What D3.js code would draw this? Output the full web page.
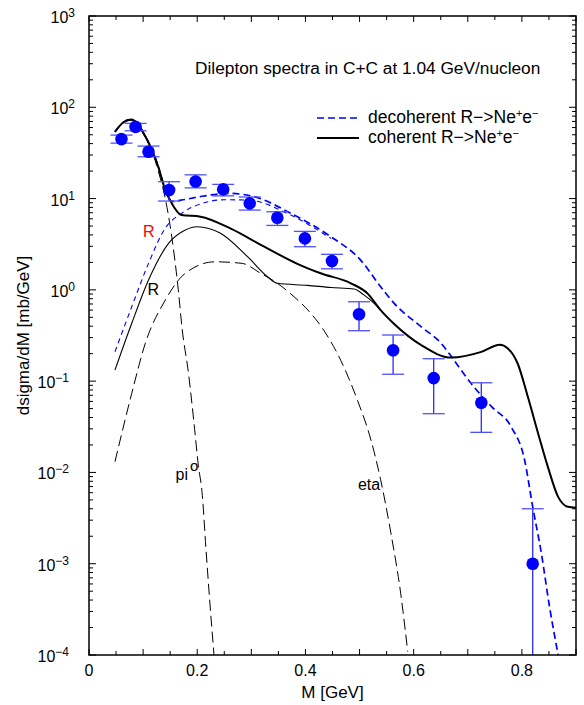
<!DOCTYPE html>
<html>
<head>
<meta charset="utf-8">
<script src="https://cdn.jsdelivr.net/npm/d3@7"></script>
<style>
  body { margin: 0; background: #fff; }
  svg { display: block; font-family: "Liberation Sans", Arial, Helvetica, sans-serif; }
</style>
</head>
<body>
<div id="chart"></div>
<script>
// measured dilepton spectrum (points with error bars)
var dataMass  = [0.060, 0.086, 0.110, 0.148, 0.197, 0.248, 0.297, 0.348, 0.399, 0.449, 0.499, 0.562, 0.637, 0.725, 0.820];
var dataSigma = [44.8, 61.0, 32.6, 12.4, 15.4, 12.6, 8.86, 6.16, 3.66, 2.07, 0.54, 0.218, 0.108, 0.058, 0.001];
var dataLow   = [40.5, 55.3, 28.7, 9.4, 13.1, 10.7, 7.48, 5.08, 2.97, 1.70, 0.357, 0.119, 0.044, 0.0275, 0.00001];
var dataHigh  = [49.6, 66.6, 37.6, 15.3, 18.2, 14.3, 10.4, 7.17, 4.37, 2.45, 0.741, 0.32, 0.176, 0.096, 0.004];

// pi0 Dalitz
var piMass  = [0.048, 0.063, 0.078, 0.090, 0.101, 0.110, 0.119, 0.128, 0.141, 0.153, 0.165, 0.172, 0.184, 0.194, 0.202, 0.209, 0.216, 0.223, 0.231];
var piSigma = [53.7, 68, 72, 64, 50, 40, 30, 20, 10, 3.8, 1.0, 0.38, 0.12, 0.035, 0.012, 0.006, 0.0015, 0.0004, 0.0001];

// eta Dalitz
var etaMass  = [0.048, 0.079, 0.104, 0.141, 0.178, 0.233, 0.283, 0.317, 0.348, 0.379, 0.410, 0.434, 0.465, 0.496, 0.521, 0.539, 0.558, 0.576, 0.589];
var etaSigma = [0.0131, 0.0735, 0.259, 0.773, 1.52, 2.03, 1.95, 1.52, 1.18, 0.84, 0.553, 0.36, 0.17, 0.062, 0.0227, 0.0083, 0.00215, 0.000474, 0.000109];

// coherent R -> N e+e- contribution
var rCohMass  = [0.048, 0.079, 0.110, 0.147, 0.178, 0.200, 0.243, 0.293, 0.330, 0.348, 0.404, 0.447, 0.490, 0.508, 0.527, 0.539];
var rCohSigma = [0.132, 0.43, 1.28, 3.23, 4.52, 4.91, 4.16, 2.31, 1.39, 1.18, 1.12, 1.06, 1.02, 0.88, 0.71, 0.60];

// decoherent R -> N e+e- contribution
var rDecMass  = [0.048, 0.079, 0.110, 0.141, 0.171, 0.209, 0.250, 0.293, 0.373, 0.447];
var rDecSigma = [0.21, 0.653, 1.95, 4.75, 6.89, 8.85, 9.7, 9.63, 6.59, 3.66];

// total, coherent
var totCohMass  = [0.048, 0.063, 0.078, 0.090, 0.101, 0.119, 0.128, 0.141, 0.153, 0.171, 0.206, 0.262, 0.323, 0.385, 0.428, 0.484, 0.515, 0.539, 0.564, 0.614, 0.669, 0.725, 0.759, 0.774, 0.792, 0.811, 0.830, 0.848, 0.867, 0.885, 0.900];
var totCohSigma = [53.9, 68, 73.7, 66, 51.8, 31.3, 22.3, 12.4, 8.86, 6.59, 6.34, 4.69, 2.99, 1.93, 1.52, 1.18, 0.91, 0.60, 0.423, 0.248, 0.181, 0.209, 0.25, 0.228, 0.157, 0.0674, 0.0267, 0.0115, 0.0054, 0.0042, 0.0041];

// total, decoherent
var totDecMass  = [0.048, 0.063, 0.078, 0.090, 0.101, 0.119, 0.128, 0.141, 0.153, 0.170, 0.209, 0.258, 0.305, 0.373, 0.447, 0.502, 0.539, 0.564, 0.614, 0.651, 0.672, 0.706, 0.744, 0.780, 0.805, 0.820, 0.836, 0.851, 0.867];
var totDecSigma = [53.9, 68, 73.7, 66, 51.8, 31.3, 22.3, 12.6, 9.3, 9.6, 10.6, 11.4, 10.5, 6.89, 3.82, 2.12, 1.08, 0.711, 0.394, 0.259, 0.178, 0.0946, 0.0525, 0.0317, 0.0137, 0.0042, 0.0013, 0.00034, 0.0001];

var xTicks = [0, 0.2, 0.4, 0.6, 0.8];
var yExponents = [-4, -3, -2, -1, 0, 1, 2, 3];

var DileptonChart = (function () {
    /**
     * Builds the log-scale dilepton chart inside the given div
     * @param divId The div that receives the svg
     */
    function DileptonChart(divId) {
        var _this = this;
        this.divId = divId;
        this.margin = { top: 16, right: 8, bottom: 50, left: 89 };
        this.size = {
            width: 584 - this.margin.left - this.margin.right,
            height: 705 - this.margin.top - this.margin.bottom
        };
        this.xScale = d3.scaleLinear().domain([0, 0.9]).range([0, this.size.width]);
        this.yScale = d3.scaleLog().domain([1e-4, 1e3]).range([this.size.height, 0]);
        this.line = d3.line()
            .x(function (d) { return _this.xScale(d[0]); })
            .y(function (d) { return _this.yScale(d[1]); })
            .curve(d3.curveMonotoneX);
        this.initialize();
    }
    DileptonChart.prototype.initialize = function () {
        this.svg = d3.select("#" + this.divId).append("svg")
            .attr("width", 584).attr("height", 705);
        this.svg.append("defs").append("clipPath").attr("id", "plotClip")
            .append("rect").attr("width", this.size.width).attr("height", this.size.height);
        this.g = this.svg.append("g")
            .attr("transform", "translate(" + this.margin.left + "," + this.margin.top + ")");
    };
    DileptonChart.prototype.renderCurves = function () {
        var _this = this;
        var curves = [
            { mass: piMass, sigma: piSigma, stroke: "#000", width: 1, dash: "11,5" },
            { mass: etaMass, sigma: etaSigma, stroke: "#000", width: 1, dash: "11,5" },
            { mass: rCohMass, sigma: rCohSigma, stroke: "#000", width: 1.1, dash: null },
            { mass: rDecMass, sigma: rDecSigma, stroke: "#0000ff", width: 1.1, dash: "5,4" },
            { mass: totDecMass, sigma: totDecSigma, stroke: "#0000ff", width: 1.7, dash: "7,4" },
            { mass: totCohMass, sigma: totCohSigma, stroke: "#000", width: 2, dash: null }
        ];
        var layer = this.g.append("g").attr("clip-path", "url(#plotClip)");
        layer.selectAll("path.curve").data(curves).enter().append("path")
            .attr("class", "curve")
            .attr("d", function (c) { return _this.line(c.mass.map(function (m, i) { return [m, c.sigma[i]]; })); })
            .attr("fill", "none")
            .attr("stroke", function (c) { return c.stroke; })
            .attr("stroke-width", function (c) { return c.width; })
            .attr("stroke-dasharray", function (c) { return c.dash; });
    };
    DileptonChart.prototype.renderPoints = function () {
        var _this = this;
        var yMin = this.yScale.domain()[0];
        var points = dataMass.map(function (m, i) {
            return { m: m, v: dataSigma[i], lo: dataLow[i], hi: dataHigh[i] };
        });
        var layer = this.g.append("g").attr("clip-path", "url(#plotClip)");
        var pt = layer.selectAll("g.point").data(points).enter().append("g").attr("class", "point");
        pt.append("line")
            .attr("x1", function (d) { return _this.xScale(d.m); })
            .attr("x2", function (d) { return _this.xScale(d.m); })
            .attr("y1", function (d) { return _this.yScale(d.hi); })
            .attr("y2", function (d) { return _this.yScale(Math.max(d.lo, yMin)); })
            .attr("stroke", "#2a2aff").attr("stroke-width", 1.3);
        pt.append("line")
            .attr("x1", function (d) { return _this.xScale(d.m) - 11; })
            .attr("x2", function (d) { return _this.xScale(d.m) + 11; })
            .attr("y1", function (d) { return _this.yScale(d.hi); })
            .attr("y2", function (d) { return _this.yScale(d.hi); })
            .attr("stroke", "#5050ff").attr("stroke-width", 1.3);
        pt.filter(function (d) { return d.lo > yMin; }).append("line")
            .attr("x1", function (d) { return _this.xScale(d.m) - 11; })
            .attr("x2", function (d) { return _this.xScale(d.m) + 11; })
            .attr("y1", function (d) { return _this.yScale(d.lo); })
            .attr("y2", function (d) { return _this.yScale(d.lo); })
            .attr("stroke", "#5050ff").attr("stroke-width", 1.3);
        pt.append("circle")
            .attr("cx", function (d) { return _this.xScale(d.m); })
            .attr("cy", function (d) { return _this.yScale(d.v); })
            .attr("r", 6.3)
            .attr("fill", "#0000ff");
    };
    DileptonChart.prototype.renderAxes = function () {
        var _this = this;
        var w = this.size.width, h = this.size.height;
        var ax = this.g.append("g").attr("stroke", "#000");
        // x ticks every 0.05, bottom and top, pointing inward
        var xt = d3.range(0, 0.9001, 0.05);
        xt.forEach(function (t) {
            var len = Math.abs(Math.round(t * 10) - t * 10) < 1e-6 ? 6 : 4;
            var x = _this.xScale(t);
            ax.append("line").attr("x1", x).attr("x2", x).attr("y1", h).attr("y2", h - len);
            ax.append("line").attr("x1", x).attr("x2", x).attr("y1", 0).attr("y2", len);
        });
        // log ticks on left and right
        yExponents.forEach(function (e) {
            for (var k = 1; k <= 9; k++) {
                var v = k * Math.pow(10, e);
                if (v > 1e3) break;
                var y = _this.yScale(v);
                var len = k === 1 ? 7 : 4;
                ax.append("line").attr("x1", 0).attr("x2", len).attr("y1", y).attr("y2", y);
                ax.append("line").attr("x1", w).attr("x2", w - len).attr("y1", y).attr("y2", y);
            }
        });
        ax.selectAll("line").attr("stroke-width", 1);
        this.g.append("rect").attr("width", w).attr("height", h)
            .attr("fill", "none").attr("stroke", "#000").attr("stroke-width", 1.5);

        this.g.selectAll("text.xtick").data(xTicks).enter().append("text")
            .attr("class", "xtick")
            .attr("x", function (d) { return _this.xScale(d); })
            .attr("y", h + 21)
            .attr("text-anchor", "middle")
            .attr("font-size", 16)
            .text(function (d) { return d === 0 ? "0" : d3.format(".1f")(d); });

        var yt = this.g.selectAll("text.ytick").data(yExponents).enter().append("text")
            .attr("class", "ytick")
            .attr("x", function (e) { return e < 0 ? -20 : -14; })
            .attr("y", function (e) { return _this.yScale(Math.pow(10, e)) + 7; })
            .attr("text-anchor", "end")
            .attr("font-size", 16);
        yt.append("tspan").text("10");
        yt.append("tspan").attr("dy", -6).attr("font-size", 12)
            .text(function (e) { return e < 0 ? "\u2212" + (-e) : String(e); });

        this.g.append("text")
            .attr("x", w / 2).attr("y", h + 43)
            .attr("text-anchor", "middle").attr("font-size", 17)
            .text("M [GeV]");
        this.svg.append("text")
            .attr("transform", "translate(29," + (this.margin.top + h / 2) + ") rotate(-90)")
            .attr("text-anchor", "middle").attr("font-size", 17)
            .text("dsigma/dM [mb/GeV]");
    };
    DileptonChart.prototype.renderLabels = function () {
        var _this = this;
        var g = this.g;
        g.append("text").attr("x", 106).attr("y", 58).attr("font-size", 17.3)
            .text("Dilepton spectra in C+C at 1.04 GeV/nucleon");
        // legend
        var legend = [
            { label: "decoherent R\u2212>Ne", stroke: "#0000ff", width: 1.7, dash: "7,4" },
            { label: "coherent R\u2212>Ne", stroke: "#000", width: 2, dash: null }
        ];
        legend.forEach(function (l, i) {
            var y = 102 + i * 20;
            g.append("line").attr("x1", 228).attr("x2", 270).attr("y1", y).attr("y2", y)
                .attr("stroke", l.stroke).attr("stroke-width", l.width)
                .attr("stroke-dasharray", l.dash);
            var t = g.append("text").attr("x", 279).attr("y", y + 5).attr("font-size", 17.5);
            t.append("tspan").text(l.label);
            t.append("tspan").attr("dy", -6).attr("font-size", 11).text("+");
            t.append("tspan").attr("dy", 6).text("e");
            t.append("tspan").attr("dy", -6).attr("font-size", 11).text("\u2212");
        });
        // curve annotations, placed in data coordinates
        var notes = [
            { text: "R", m: 0.100, v: 3.8, color: "#ff0000" },
            { text: "R", m: 0.108, v: 0.877, color: "#000" },
            { text: "pi", m: 0.160, v: 0.0083, color: "#000", sup: "o" },
            { text: "eta", m: 0.497, v: 0.0064, color: "#000" }
        ];
        notes.forEach(function (n) {
            var t = g.append("text")
                .attr("x", _this.xScale(n.m)).attr("y", _this.yScale(n.v))
                .attr("font-size", 16).attr("fill", n.color);
            t.append("tspan").text(n.text);
            if (n.sup) t.append("tspan").attr("dx", 2).attr("dy", -9).attr("font-size", 15).text(n.sup);
        });
    };
    return DileptonChart;
}());

var chart = new DileptonChart("chart");
chart.renderCurves();
chart.renderPoints();
chart.renderAxes();
chart.renderLabels();
</script>
</body>
</html>
